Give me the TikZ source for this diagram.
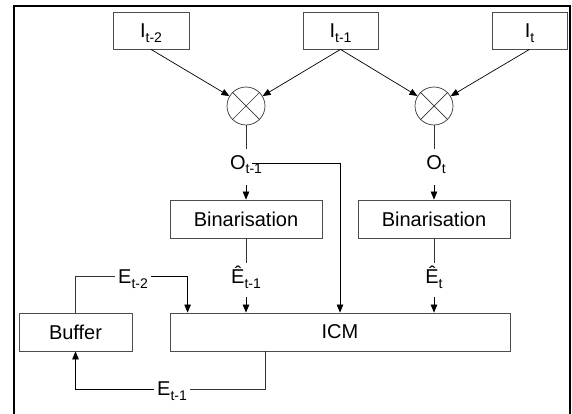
\documentclass[tikz,border=0pt]{standalone}
\usepackage{fontspec}
\setmainfont{Liberation Sans}
\usetikzlibrary{arrows.meta}
\newcommand\lsub[1]{\raisebox{-5pt}{\fontsize{14}{14}\selectfont #1}}
\begin{document}
\begin{tikzpicture}[x=1pt,y=-1pt,
  font=\fontsize{20}{24}\selectfont,
  box/.style={draw=black!70, line width=0.8pt, minimum height=37pt, inner sep=0pt, text depth=0pt},
  mult/.style={circle, draw=black!80, line width=0.7pt, minimum size=38pt, inner sep=0pt,
    path picture={\draw[black!80, line width=0.7pt] (path picture bounding box.north west) -- (path picture bounding box.south east)
      (path picture bounding box.north east) -- (path picture bounding box.south west);}},
  lab/.style={inner xsep=3pt, inner ysep=0pt, anchor=base},
  ln/.style={draw=black!80, line width=0.7pt},
  arr/.style={draw=black, line width=0.7pt, -{Triangle[length=8pt,width=6.5pt]}}
]
\useasboundingbox (0,0) rectangle (572,414);
\draw[line width=2pt] (14,414) -- (14,6) -- (570,6) -- (570,414);

% inputs
\node[box, minimum width=76pt] (i2) at (151,30.5) {I\lsub{t-2}};
\node[box, minimum width=75pt] (i1) at (340.5,30.5) {I\lsub{t-1}};
\node[box, minimum width=75pt] (i0) at (529.5,30.5) {I\lsub{t}};

% multipliers
\node[mult] (m1) at (246,106) {};
\node[mult] (m2) at (434,106) {};

% labels
\node[lab] (o1) at (246,169) {O\lsub{t-1}};
\node[lab] (o0) at (436,169) {O\lsub{t}};
\coordinate (ostart) at (252,163);

% binarisation
\node[box, minimum width=152pt, minimum height=38pt] (b1) at (246,219) {Binarisation};
\node[box, minimum width=152pt, minimum height=38pt] (b2) at (434,219) {Binarisation};

\node[lab] (eh1) at (246,283) {Ê\lsub{t-1}};
\node[lab] (eh0) at (434,283) {Ê\lsub{t}};

% ICM and buffer
\node[box, minimum width=340pt, minimum height=38pt] (icm) at (340,332) {ICM};
\node[box, minimum width=113pt, minimum height=38pt] (buf) at (75.5,332) {Buffer};

\node[lab] (e2) at (133,283) {E\lsub{t-2}};
\node[lab] (e1) at (172,395) {E\lsub{t-1}};

% connectors
\draw[arr] (i2.south) -- (m1);
\draw[arr] (i1.south) -- (m1);
\draw[arr] (i1.south) -- (m2);
\draw[arr] (i0.south) -- (m2);

\draw[ln, shorten >=6pt] (m1.south) -- (o1.north);
\draw[arr, shorten <=11pt] (o1.south) -- (b1.north);
\draw[ln, shorten >=6pt] (m2.south) -- (m2.south |- o0.north);
\draw[arr, shorten <=11pt] (m2.south |- o0.south) -- (b2.north);
\draw[arr] (ostart) -| (icm.north);

\draw[ln, shorten >=2pt] (b1.south) -- (eh1.north);
\draw[arr, shorten <=9pt] (eh1.south) -- (eh1.south |- icm.north);
\draw[ln, shorten >=2pt] (b2.south) -- (eh0.north);
\draw[arr, shorten <=9pt] (eh0.south) -- (eh0.south |- icm.north);

\draw[ln] (buf.north) |- ([yshift=2pt]e2.west);
\draw[arr] ([yshift=2pt]e2.east) -| ([xshift=18pt]icm.north west);

\draw[ln] ([xshift=96pt]icm.south west) |- ([yshift=1.5pt]e1.east);
\draw[arr] ([yshift=1.5pt]e1.west) -| (buf.south);
\end{tikzpicture}
\end{document}
